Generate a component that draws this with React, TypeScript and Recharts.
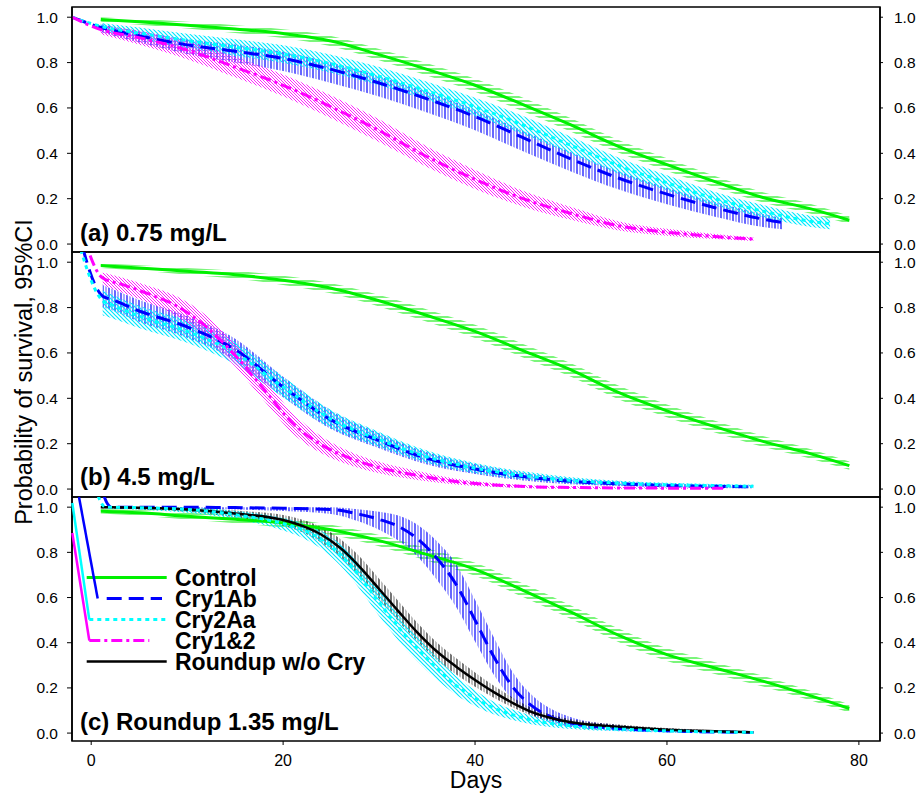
import { Area, ComposedChart, Label, Legend, Line, ReferenceArea, XAxis, YAxis } from 'recharts';

const FONT = '"Liberation Sans", Arial, Helvetica, sans-serif';
const X_DOMAIN: [number, number] = [-2, 82.2];
const Y_DOMAIN: [number, number] = [-0.035, 1.045];
const X_TICKS = [0, 20, 40, 60, 80];
const Y_TICKS = [0, 0.2, 0.4, 0.6, 0.8, 1.0];

// ---- panel (a) 0.75 mg/L ----
const aCtrlDays = [1, 5, 10, 15, 20, 25, 30, 35, 40, 45, 50, 55, 60, 65, 70, 75, 79];
const aCtrl = [0.99, 0.98, 0.965, 0.948, 0.928, 0.895, 0.835, 0.77, 0.7, 0.615, 0.525, 0.43, 0.35, 0.275, 0.205, 0.155, 0.105];
const aCtrlLo = [0.98, 0.967, 0.95, 0.93, 0.908, 0.872, 0.81, 0.743, 0.671, 0.585, 0.495, 0.402, 0.322, 0.25, 0.183, 0.134, 0.088];
const aCtrlHi = [1.0, 0.992, 0.98, 0.965, 0.947, 0.917, 0.86, 0.797, 0.729, 0.645, 0.555, 0.458, 0.378, 0.3, 0.228, 0.177, 0.124];

const a1abDays = [-2, 1, 5, 10, 15, 20, 25, 30, 35, 40, 45, 50, 55, 60, 65, 70, 72];
const a1ab = [1.0, 0.955, 0.918, 0.878, 0.85, 0.818, 0.77, 0.71, 0.64, 0.562, 0.469, 0.375, 0.29, 0.22, 0.16, 0.11, 0.095];
const a1abLo = [null, 0.935, 0.888, 0.838, 0.8, 0.763, 0.71, 0.65, 0.58, 0.502, 0.409, 0.32, 0.24, 0.175, 0.12, 0.075, 0.065];
const a1abHi = [null, 0.97, 0.938, 0.903, 0.88, 0.848, 0.8, 0.74, 0.67, 0.592, 0.499, 0.405, 0.32, 0.248, 0.185, 0.132, 0.115];

const a2aaDays = [-2, 1, 5, 10, 15, 20, 25, 30, 35, 40, 45, 50, 55, 60, 65, 70, 75, 77];
const a2aa = [1.0, 0.96, 0.93, 0.897, 0.868, 0.838, 0.795, 0.74, 0.675, 0.605, 0.525, 0.435, 0.345, 0.27, 0.2, 0.145, 0.1, 0.09];
const a2aaLo = [null, 0.945, 0.905, 0.865, 0.83, 0.798, 0.755, 0.7, 0.635, 0.565, 0.485, 0.397, 0.31, 0.237, 0.17, 0.118, 0.075, 0.065];
const a2aaHi = [null, 0.975, 0.955, 0.927, 0.903, 0.876, 0.835, 0.78, 0.715, 0.645, 0.565, 0.473, 0.38, 0.303, 0.23, 0.172, 0.125, 0.115];

const a12Days = [-2, 1, 5, 10, 15, 20, 25, 30, 35, 40, 45, 50, 55, 60, 65, 69];
const a12 = [1.0, 0.945, 0.91, 0.855, 0.78, 0.7, 0.605, 0.5, 0.385, 0.285, 0.2, 0.135, 0.08, 0.052, 0.033, 0.022];
const a12Lo = [null, 0.925, 0.88, 0.815, 0.735, 0.652, 0.555, 0.45, 0.34, 0.243, 0.165, 0.107, 0.06, 0.037, 0.022, 0.014];
const a12Hi = [null, 0.962, 0.94, 0.893, 0.825, 0.748, 0.655, 0.55, 0.43, 0.327, 0.235, 0.163, 0.1, 0.067, 0.044, 0.03];

// ---- panel (b) 4.5 mg/L ----
const bCtrlDays = [1, 5, 10, 15, 20, 25, 30, 35, 40, 45, 50, 55, 60, 65, 70, 75, 79];
const bCtrl = [0.985, 0.975, 0.96, 0.945, 0.92, 0.885, 0.83, 0.765, 0.695, 0.61, 0.525, 0.425, 0.345, 0.275, 0.21, 0.155, 0.103];
const bCtrlLo = [0.975, 0.963, 0.945, 0.928, 0.9, 0.863, 0.805, 0.738, 0.666, 0.58, 0.495, 0.395, 0.317, 0.249, 0.186, 0.134, 0.085];
const bCtrlHi = [0.995, 0.987, 0.975, 0.962, 0.94, 0.907, 0.855, 0.792, 0.724, 0.64, 0.555, 0.455, 0.373, 0.301, 0.234, 0.176, 0.121];

const b1abDays = [-2, 1.2, 2, 5, 10, 15, 20, 25, 30, 35, 40, 45, 50, 55, 60, 65, 69];
const b1ab = [1.25, 0.85, 0.838, 0.785, 0.715, 0.615, 0.45, 0.305, 0.213, 0.135, 0.088, 0.055, 0.034, 0.023, 0.016, 0.012, 0.01];
const b1abLo = [null, 0.8, 0.79, 0.737, 0.667, 0.567, 0.405, 0.265, 0.18, 0.108, 0.066, 0.038, 0.021, 0.013, 0.008, 0.005, 0.004];
const b1abHi = [null, 0.9, 0.885, 0.833, 0.763, 0.663, 0.495, 0.345, 0.246, 0.162, 0.11, 0.072, 0.047, 0.033, 0.024, 0.019, 0.016];

const b2aaDays = [-2, 1.2, 2, 5, 10, 15, 20, 25, 30, 35, 40, 45, 50, 55, 60, 65, 69];
const b2aa = [1.19, 0.83, 0.815, 0.762, 0.695, 0.6, 0.45, 0.308, 0.218, 0.142, 0.092, 0.06, 0.038, 0.026, 0.019, 0.015, 0.012];
const b2aaLo = [null, 0.765, 0.755, 0.71, 0.645, 0.55, 0.405, 0.268, 0.185, 0.115, 0.07, 0.043, 0.025, 0.016, 0.011, 0.008, 0.006];
const b2aaHi = [null, 0.875, 0.86, 0.808, 0.742, 0.647, 0.495, 0.348, 0.252, 0.17, 0.115, 0.078, 0.052, 0.037, 0.028, 0.022, 0.019];

const b12Days = [-2, 1.2, 3, 6, 9, 12, 15, 18, 21, 24, 27, 30, 34, 38, 42, 46, 50, 55, 60, 66];
const b12 = [1.31, 0.93, 0.905, 0.86, 0.805, 0.715, 0.59, 0.44, 0.29, 0.195, 0.135, 0.095, 0.06, 0.033, 0.018, 0.01, 0.007, 0.005, 0.004, 0.003];
const b12Lo = [null, 0.9, 0.87, 0.82, 0.76, 0.665, 0.54, 0.39, 0.245, 0.158, 0.105, 0.07, 0.04, 0.02, 0.009, 0.004, 0.002, 0.001, 0.001, 0.001];
const b12Hi = [null, 0.955, 0.935, 0.895, 0.848, 0.765, 0.64, 0.49, 0.335, 0.232, 0.165, 0.12, 0.08, 0.046, 0.027, 0.016, 0.012, 0.009, 0.007, 0.006];

// ---- panel (c) Roundup 1.35 mg/L ----
const cCtrlDays = [1, 5, 10, 15, 20, 25, 30, 35, 40, 45, 50, 55, 60, 65, 70, 75, 79];
const cCtrl = [0.982, 0.975, 0.96, 0.946, 0.93, 0.9, 0.852, 0.79, 0.725, 0.632, 0.535, 0.432, 0.347, 0.288, 0.23, 0.165, 0.109];
const cCtrlLo = [0.972, 0.963, 0.945, 0.929, 0.91, 0.878, 0.827, 0.763, 0.696, 0.602, 0.505, 0.402, 0.319, 0.262, 0.206, 0.144, 0.091];
const cCtrlHi = [0.992, 0.987, 0.975, 0.963, 0.95, 0.922, 0.877, 0.817, 0.754, 0.662, 0.565, 0.462, 0.375, 0.314, 0.254, 0.186, 0.127];

const c1abDays = [0.6, 2.1, 5, 10, 15, 20, 25, 28, 30, 32, 34, 36, 38, 40, 42, 44, 46, 48, 50, 55, 60, 65, 69];
const c1ab = [1.15, 1.0, 1.0, 1.0, 0.998, 0.995, 0.99, 0.968, 0.946, 0.915, 0.86, 0.775, 0.66, 0.5, 0.335, 0.2, 0.118, 0.07, 0.045, 0.02, 0.01, 0.005, 0.003];
const c1abLo = [null, 0.995, 0.995, 0.993, 0.99, 0.983, 0.97, 0.935, 0.9, 0.852, 0.782, 0.68, 0.56, 0.405, 0.255, 0.145, 0.08, 0.045, 0.027, 0.01, 0.004, 0.001, 0.0];
const c1abHi = [null, 1.0, 1.0, 1.0, 1.0, 1.0, 1.0, 0.99, 0.98, 0.963, 0.922, 0.85, 0.75, 0.59, 0.42, 0.265, 0.165, 0.105, 0.07, 0.035, 0.02, 0.011, 0.007];

const c2aaDays = [0, 1.5, 5, 10, 15, 20, 22, 24, 26, 28, 30, 32, 34, 36, 38, 40, 42, 44, 46, 48, 50, 55, 60, 65, 69];
const c2aa = [1.15, 1.0, 0.998, 0.99, 0.967, 0.927, 0.9, 0.857, 0.79, 0.692, 0.578, 0.47, 0.372, 0.287, 0.212, 0.155, 0.11, 0.08, 0.057, 0.042, 0.032, 0.018, 0.01, 0.005, 0.003];
const c2aaLo = [null, 0.995, 0.99, 0.975, 0.947, 0.897, 0.865, 0.815, 0.74, 0.637, 0.518, 0.41, 0.317, 0.237, 0.17, 0.12, 0.082, 0.057, 0.038, 0.026, 0.018, 0.008, 0.003, 0.001, 0.0];
const c2aaHi = [null, 1.0, 1.0, 0.998, 0.984, 0.952, 0.93, 0.895, 0.835, 0.742, 0.633, 0.525, 0.424, 0.335, 0.254, 0.19, 0.138, 0.103, 0.076, 0.058, 0.046, 0.028, 0.017, 0.01, 0.006];

const cRuDays = [1, 5, 10, 15, 20, 22, 24, 26, 28, 30, 32, 34, 36, 38, 40, 42, 44, 46, 48, 50, 55, 60, 65, 69];
const cRu = [1.0, 0.997, 0.99, 0.972, 0.943, 0.917, 0.878, 0.818, 0.735, 0.638, 0.54, 0.445, 0.362, 0.295, 0.235, 0.18, 0.132, 0.092, 0.066, 0.048, 0.028, 0.015, 0.008, 0.004];
const cRuLo = [0.995, 0.99, 0.98, 0.955, 0.918, 0.889, 0.843, 0.778, 0.69, 0.593, 0.495, 0.405, 0.324, 0.26, 0.205, 0.155, 0.112, 0.076, 0.053, 0.037, 0.02, 0.009, 0.004, 0.001];
const cRuHi = [1.0, 1.0, 0.997, 0.985, 0.965, 0.944, 0.911, 0.858, 0.78, 0.683, 0.585, 0.487, 0.402, 0.332, 0.268, 0.208, 0.155, 0.11, 0.081, 0.061, 0.038, 0.022, 0.013, 0.008];

const LEGEND_NAMES = ['Control', 'Cry1Ab', 'Cry2Aa', 'Cry1&2', 'Roundup w/o Cry'];
const LEGEND_KINDS: Kind[] = ['ctrl', 'cry1ab', 'cry2aa', 'cry12', 'roundup'];

type Kind = 'ctrl' | 'cry1ab' | 'cry2aa' | 'cry12' | 'roundup';

const STYLE: Record<Kind, { color: string; width: number; dash?: string; fill: string }> = {
  ctrl: { color: '#00f000', width: 3, fill: 'h' },
  cry1ab: { color: '#0000ff', width: 3, dash: '15 7', fill: 'v' },
  cry2aa: { color: '#00ffff', width: 3, dash: '4 4', fill: 'd' },
  cry12: { color: '#ff00ff', width: 3, dash: '11 4 3 4', fill: 'm' },
  roundup: { color: '#000000', width: 2.5, fill: 'k' },
};

type Curve = { kind: Kind; days: number[]; surv: number[]; lo: (number | null)[]; hi: (number | null)[] };

const curve = (kind: Kind, days: number[], surv: number[], lo: (number | null)[], hi: (number | null)[]): Curve => ({
  kind,
  days,
  surv,
  lo,
  hi,
});

const PANEL_A: Curve[] = [
  curve('ctrl', aCtrlDays, aCtrl, aCtrlLo, aCtrlHi),
  curve('cry1ab', a1abDays, a1ab, a1abLo, a1abHi),
  curve('cry2aa', a2aaDays, a2aa, a2aaLo, a2aaHi),
  curve('cry12', a12Days, a12, a12Lo, a12Hi),
];
const PANEL_B: Curve[] = [
  curve('ctrl', bCtrlDays, bCtrl, bCtrlLo, bCtrlHi),
  curve('cry1ab', b1abDays, b1ab, b1abLo, b1abHi),
  curve('cry2aa', b2aaDays, b2aa, b2aaLo, b2aaHi),
  curve('cry12', b12Days, b12, b12Lo, b12Hi),
];
const PANEL_C: Curve[] = [
  curve('ctrl', cCtrlDays, cCtrl, cCtrlLo, cCtrlHi),
  curve('cry1ab', c1abDays, c1ab, c1abLo, c1abHi),
  curve('roundup', cRuDays, cRu, cRuLo, cRuHi),
  curve('cry2aa', c2aaDays, c2aa, c2aaLo, c2aaHi),
];

const lineRows = (c: Curve) => c.days.map((d, i) => ({ day: d, s: c.surv[i] }));
const bandRows = (c: Curve) =>
  c.days.map((d, i) => ({ day: d, lo: c.lo[i], hi: c.hi[i] })).filter((r) => r.lo != null && r.hi != null);

function Hatches({ id }: { id: string }) {
  return (
    <defs>
      <pattern id={`${id}-h`} width={8} height={4} patternUnits="userSpaceOnUse">
        <line x1={0} y1={1} x2={8} y2={1} stroke="#22ee22" strokeWidth={1.2} />
      </pattern>
      <pattern id={`${id}-v`} width={6} height={6} patternUnits="userSpaceOnUse">
        <line x1={1} y1={0} x2={1} y2={6} stroke="#0000ff" strokeWidth={1.2} />
        <line x1={4} y1={0} x2={4} y2={6} stroke="#7070ff" strokeWidth={1.2} />
      </pattern>
      <pattern id={`${id}-d`} width={4} height={4} patternUnits="userSpaceOnUse">
        <path d="M-1,-1 L5,5 M-1,3 L1,5 M3,-1 L5,1" stroke="#00e8ff" strokeWidth={1.2} />
      </pattern>
      <pattern id={`${id}-m`} width={3} height={3} patternUnits="userSpaceOnUse">
        <path d="M-1,-1 L4,4 M-1,2 L1,4 M2,-1 L4,1" stroke="#ff22ff" strokeWidth={1} />
      </pattern>
      <pattern id={`${id}-k`} width={6} height={6} patternUnits="userSpaceOnUse">
        <line x1={1} y1={0} x2={1} y2={6} stroke="#000000" strokeWidth={1.1} />
        <line x1={4} y1={0} x2={4} y2={6} stroke="#888888" strokeWidth={1.1} />
      </pattern>
    </defs>
  );
}

// legend drawn in panel (c); coordinates are relative to the legend box
function LegendBox() {
  const spans: [number, number][] = [
    [14.7, 94.7],
    [34.7, 90],
    [17.3, 94.7],
    [17.3, 77.3],
    [14.7, 94.7],
  ];
  const leads: ([number, number] | null)[] = [null, [7, 0], [0.3, 6], [0.3, 36], null];
  return (
    <svg width={330} height={190} style={{ overflow: 'visible' }}>
      {LEGEND_NAMES.map((name, i) => {
        const st = STYLE[LEGEND_KINDS[i]];
        const y = 80.5 + 21 * i;
        const lead = leads[i];
        return (
          <g key={name}>
            {lead && (
              <line x1={lead[0]} y1={lead[1]} x2={spans[i][0] - (i === 1 ? 9 : 0)} y2={y} stroke={st.color} strokeWidth={2.5} />
            )}
            <line x1={spans[i][0]} y1={y} x2={spans[i][1]} y2={y} stroke={st.color} strokeWidth={st.width} strokeDasharray={st.dash} />
            <text x={103} y={y + 8.5} fontFamily={FONT} fontWeight="bold" fontSize={23} fill="#000">
              {name}
            </text>
          </g>
        );
      })}
    </svg>
  );
}

interface PanelProps {
  id: string;
  top: number;
  height: number;
  margin: { top: number; right: number; bottom: number; left: number };
  curves: Curve[];
  last?: boolean;
}

function Panel({ id, top, height, margin, curves, last }: PanelProps) {
  const tickStyle = { fill: '#000', fontSize: 15.5, fontFamily: FONT };
  return (
    <div style={{ position: 'absolute', left: 0, top }}>
      <ComposedChart width={921} height={height} margin={margin}>
        <Hatches id={id} />
        <XAxis
          xAxisId="top"
          orientation="top"
          type="number"
          dataKey="day"
          domain={X_DOMAIN}
          ticks={X_TICKS}
          allowDataOverflow
          height={0}
          mirror
          tick={false}
          tickSize={3}
          axisLine={false}
          stroke="#000"
        />
        {last ? (
          <XAxis
            type="number"
            dataKey="day"
            domain={X_DOMAIN}
            ticks={X_TICKS}
            allowDataOverflow
            height={55}
            tickSize={4}
            tickMargin={10}
            tick={{ fill: '#000', fontSize: 16, fontFamily: FONT }}
            axisLine={false}
            stroke="#000"
          >
            <Label value="Days" position="insideBottom" offset={8} style={{ fontSize: 23, fontFamily: FONT, fill: '#000' }} />
          </XAxis>
        ) : (
          <XAxis
            type="number"
            dataKey="day"
            domain={X_DOMAIN}
            ticks={X_TICKS}
            allowDataOverflow
            height={0}
            mirror
            tick={false}
            tickSize={3}
            axisLine={false}
            stroke="#000"
          />
        )}
        <YAxis
          type="number"
          domain={Y_DOMAIN}
          ticks={Y_TICKS}
          allowDataOverflow
          width={72}
          tickSize={5}
          tickMargin={9}
          tickFormatter={(v: number) => v.toFixed(1)}
          tick={tickStyle}
          stroke="#000"
          axisLine={{ stroke: '#000', strokeWidth: 1.5 }}
        />
        <YAxis
          yAxisId="r"
          orientation="right"
          type="number"
          domain={Y_DOMAIN}
          ticks={Y_TICKS}
          allowDataOverflow
          width={41}
          tickSize={3}
          tickMargin={11}
          tickFormatter={(v: number) => v.toFixed(1)}
          tick={tickStyle}
          stroke="#000"
          axisLine={{ stroke: '#000', strokeWidth: 1.5 }}
        />
        <ReferenceArea
          x1={X_DOMAIN[0]}
          x2={X_DOMAIN[1]}
          y1={Y_DOMAIN[0]}
          y2={Y_DOMAIN[1]}
          fill="none"
          stroke="#000"
          strokeWidth={1.5}
          ifOverflow="visible"
        />
        {curves.map((c) => (
          <Area
            key={`band-${c.kind}`}
            data={bandRows(c)}
            type="monotone"
            dataKey={(r: { lo: number; hi: number }) => [r.lo, r.hi]}
            stroke="none"
            fill={`url(#${id}-${STYLE[c.kind].fill})`}
            fillOpacity={1}
            dot={false}
            activeDot={false}
            isAnimationActive={false}
          />
        ))}
        {curves.map((c) => (
          <Line
            key={`line-${c.kind}`}
            data={lineRows(c)}
            type="monotone"
            dataKey="s"
            stroke={STYLE[c.kind].color}
            strokeWidth={STYLE[c.kind].width}
            strokeDasharray={STYLE[c.kind].dash}
            dot={false}
            activeDot={false}
            isAnimationActive={false}
          />
        ))}
        {last && (
          <Legend
            layout="horizontal"
            verticalAlign="middle"
            align="center"
            width={330}
            height={190}
            wrapperStyle={{ left: 72, top: 4, width: 330, height: 190 }}
            content={() => <LegendBox />}
          />
        )}
      </ComposedChart>
    </div>
  );
}

const panelLabel = (text: string, top: number) => (
  <div
    style={{
      position: 'absolute',
      left: 80,
      top,
      fontFamily: FONT,
      fontWeight: 'bold',
      fontSize: 24,
      lineHeight: '24px',
      whiteSpace: 'nowrap',
      color: '#000',
    }}
  >
    {text}
  </div>
);

export default function App() {
  return (
    <div style={{ position: 'absolute', left: 0, top: 0, width: 921, height: 796, background: '#fff' }}>
      <Panel id="pa" top={0} height={256} margin={{ top: 7, right: 0, bottom: 4, left: 0 }} curves={PANEL_A} />
      <Panel id="pb" top={248} height={253} margin={{ top: 4, right: 0, bottom: 4, left: 0 }} curves={PANEL_B} />
      <Panel id="pc" top={493} height={303} margin={{ top: 4, right: 0, bottom: 0, left: 0 }} curves={PANEL_C} last />
      {panelLabel('(a) 0.75 mg/L', 220.7)}
      {panelLabel('(b) 4.5 mg/L', 464.7)}
      {panelLabel('(c) Roundup 1.35 mg/L', 710.4)}
      <div
        style={{
          position: 'absolute',
          left: 24,
          top: 372,
          transform: 'translate(-50%, -50%) rotate(-90deg)',
          fontFamily: FONT,
          fontSize: 23.5,
          whiteSpace: 'nowrap',
          color: '#000',
        }}
      >
        Probability of survival, 95%CI
      </div>
    </div>
  );
}
